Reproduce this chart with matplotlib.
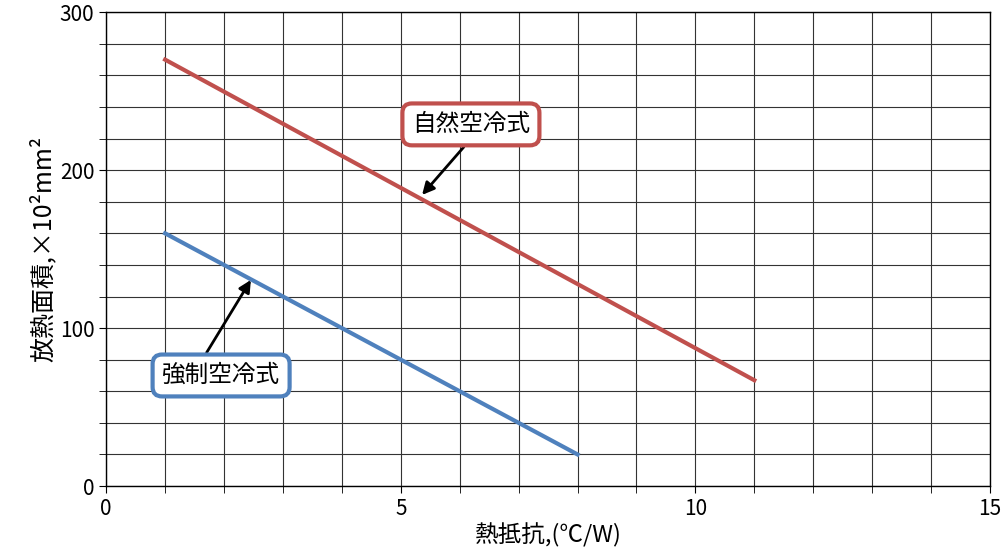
import matplotlib
matplotlib.use("Agg")
import matplotlib.pyplot as plt
import numpy as np

plt.rcParams['font.family'] = ['Noto Sans CJK JP', 'DejaVu Sans']

natural_x = [1, 11]
natural_y = [270, 67]
forced_x = [1, 8]
forced_y = [160, 20]
xticks = [0, 5, 10, 15]
yticks = [0, 100, 200, 300]

fig = plt.figure(figsize=(10.02, 5.58), dpi=100)
ax = fig.add_axes([0.106, 0.129, 0.882, 0.849])
ax.set_xlim(0, 15)
ax.set_ylim(0, 300)
ax.set_xticks(np.arange(0, 16, 1), minor=True)
ax.set_yticks(np.arange(0, 301, 20), minor=True)
ax.set_xticks(xticks)
ax.set_yticks(yticks)
ax.grid(True, which='both', color='#333333', linewidth=0.8)
ax.set_axisbelow(True)
ax.tick_params(which='both', direction='out', labelsize=15, length=5)
for s in ax.spines.values():
    s.set_linewidth(1.0)

ax.plot(natural_x, natural_y, color='#c0504d', linewidth=3)
ax.plot(forced_x, forced_y, color='#4f81bd', linewidth=3)

ax.annotate('', xy=(5.33, 183), xytext=(6.1, 216),
            arrowprops=dict(arrowstyle='-|>', color='black', lw=2, mutation_scale=18))
ax.annotate('', xy=(2.48, 132), xytext=(1.68, 83),
            arrowprops=dict(arrowstyle='-|>', color='black', lw=2, mutation_scale=18))
ax.text(6.19, 229, '自然空冷式', fontsize=17, ha='center', va='center',
        bbox=dict(boxstyle='round,pad=0.4', fc='white', ec='#c0504d', lw=3))
ax.text(1.95, 70, '強制空冷式', fontsize=17, ha='center', va='center',
        bbox=dict(boxstyle='round,pad=0.4', fc='white', ec='#4f81bd', lw=3))

ax.set_xlabel('熱抵抗,(℃/W)', fontsize=17, labelpad=2)
ax.set_ylabel('放熱面積,×10²mm²', fontsize=18, labelpad=2)
fig.savefig('out.png', dpi=100)
